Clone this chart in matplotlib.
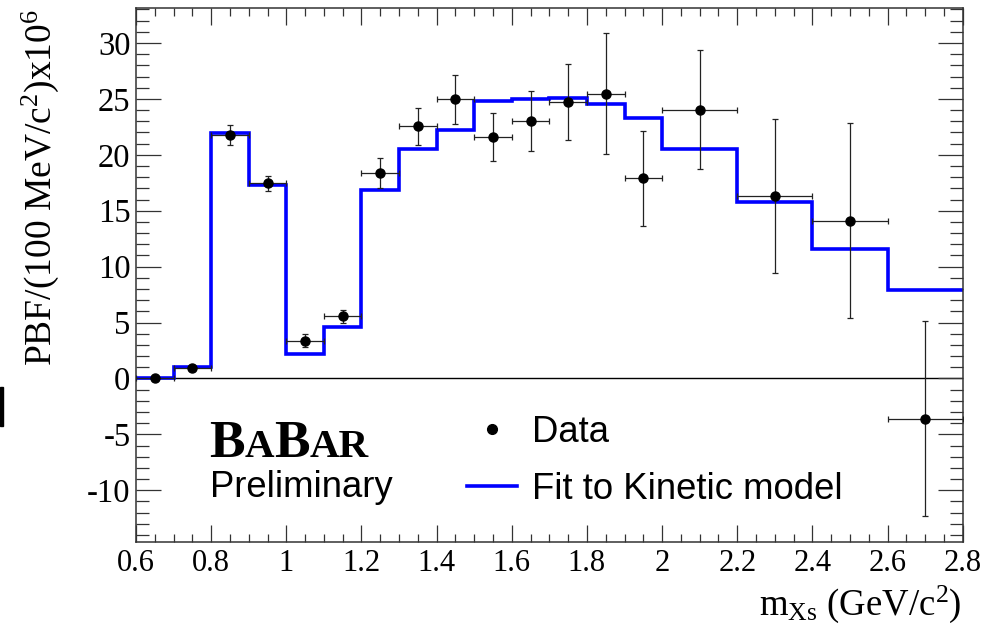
import numpy as np
import matplotlib
matplotlib.use("Agg")
import matplotlib.pyplot as plt
from matplotlib.lines import Line2D
from matplotlib.patches import Rectangle
from matplotlib.ticker import MultipleLocator, FuncFormatter

plt.rcParams["font.family"] = ["Liberation Serif", "DejaVu Serif"]
plt.rcParams["mathtext.fontset"] = "custom"
plt.rcParams["mathtext.rm"] = "Liberation Serif"
plt.rcParams["mathtext.it"] = "Liberation Serif:italic"
plt.rcParams["axes.unicode_minus"] = False

# Measured partial branching fraction per bin of m_Xs
data_edges = [0.6, 0.7, 0.8, 0.9, 1.0, 1.1, 1.2, 1.3, 1.4, 1.5, 1.6, 1.7,
              1.8, 1.9, 2.0, 2.2, 2.4, 2.6, 2.8]
data_pbf = [0.0, 0.93, 21.74, 17.45, 3.38, 5.55, 18.4, 22.55, 24.95, 21.55,
            23.0, 24.7, 25.45, 17.9, 24.05, 16.3, 14.1, -3.6]
data_err = [0.2, 0.3, 0.9, 0.68, 0.6, 0.6, 1.35, 1.65, 2.2, 2.15,
            2.7, 3.4, 5.4, 4.25, 5.3, 6.9, 8.7, 8.7]

# Kinetic-model fit, same binning
fit_pbf = [0.05, 1.04, 21.98, 17.27, 2.17, 4.61, 16.83, 20.55, 22.19, 24.81,
           24.96, 25.11, 24.51, 23.32, 20.52, 15.78, 11.56, 7.93]

edges = np.array(data_edges)
centers = 0.5 * (edges[:-1] + edges[1:])
half_w = 0.5 * np.diff(edges)

W, H = 995, 629
fig = plt.figure(figsize=(W / 100, H / 100), dpi=100)
ax = fig.add_axes([136 / W, 1 - 541.7 / H, (962.7 - 136) / W, (541.7 - 8.3) / H])

ax.axhline(0, color="black", lw=1.0, zorder=1)
ax.stairs(fit_pbf, edges, baseline=None, color="#0000ff", lw=2.6, zorder=2)
ax.errorbar(centers, data_pbf, yerr=data_err, xerr=half_w, fmt="o",
            color="black", ms=6.5, ecolor="#222222", elinewidth=0.9,
            capsize=2.3, capthick=0.9, zorder=3)

ax.set_xlim(0.6, 2.8)
ax.set_ylim(-14.6, 33.1)

ax.xaxis.set_major_locator(MultipleLocator(0.2))
ax.xaxis.set_minor_locator(MultipleLocator(0.05))
ax.yaxis.set_major_locator(MultipleLocator(5))
ax.yaxis.set_minor_locator(MultipleLocator(1))
ax.xaxis.set_major_formatter(FuncFormatter(lambda v, p: f"{v:g}"))
ax.yaxis.set_major_formatter(FuncFormatter(lambda v, p: f"{v:g}"))

ax.tick_params(which="both", direction="in", top=True, right=True,
               color="#333333", width=0.9, labelcolor="black")
ax.tick_params(axis="x", which="major", length=12, pad=5, labelsize=22)
ax.tick_params(axis="x", which="minor", length=6)
ax.tick_params(axis="y", which="major", length=18, pad=4, labelsize=23.5)
ax.tick_params(axis="y", which="minor", length=9.5)
for s in ax.spines.values():
    s.set_color("#333333")
    s.set_linewidth(1.1)

fig.text(40 / W, 1 - 187 / H, r"PBF/(100 MeV/c$^{2}$)x10$^{6}$",
         rotation=90, ha="center", va="center", fontsize=27)
fig.text(961 / W, 1 - 615 / H, r"m$_{\mathrm{Xs}}$ (GeV/c$^{2}$)",
         ha="right", va="baseline", fontsize=26.5)

# BaBar logo in small caps, built piece by piece
renderer = fig.canvas.get_renderer()
x0 = 209 / W
for piece, size in [("B", 38.5), ("A", 29.5), ("B", 38.5), ("AR", 29.5)]:
    t = fig.text(x0, 1 - 457.3 / H, piece, fontsize=size, fontweight="bold",
                 ha="left", va="baseline")
    bb = t.get_window_extent(renderer)
    x0 += bb.width / W
fig.text(210 / W, 1 - 496.7 / H, "Preliminary", fontsize=26.3,
         family="Liberation Sans", ha="left", va="baseline")

handles = [
    Line2D([], [], ls="none", marker="o", color="black", ms=7),
    Line2D([], [], color="#0000ff", lw=2.6),
]
ax.legend(handles, ["Data", "Fit to Kinetic model"], loc="center left",
          bbox_to_anchor=(467.5 / W, 1 - 461 / H),
          bbox_transform=fig.transFigure, frameon=False, borderpad=0,
          borderaxespad=0, handlelength=1.35, handletextpad=0.42,
          labelspacing=0.6, prop={"family": "Liberation Sans", "size": 26.3})

fig.add_artist(Rectangle((0, 1 - 425.7 / H), 3.5 / W, 39 / H,
                         transform=fig.transFigure, color="black"))

fig.savefig("out.png", dpi=100)
